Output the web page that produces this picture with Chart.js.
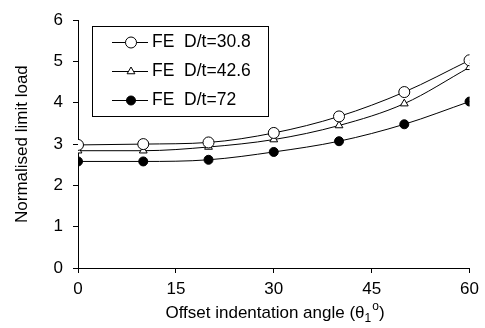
<!DOCTYPE html>
<html>
<head>
<meta charset="utf-8">
<script src="https://cdn.jsdelivr.net/npm/chart.js@4"></script>
<style>
  html, body { margin: 0; padding: 0; background: #fff; }
  #wrap { width: 485px; height: 328px; }
</style>
</head>
<body>
<div id="wrap"><canvas id="chart" width="485" height="328"></canvas></div>
<script>
const angles = [0, 10, 20, 30, 40, 50, 60];
const fe308 = [2.98, 3.0, 3.04, 3.27, 3.67, 4.26, 5.03];
const fe426 = [2.84, 2.84, 2.93, 3.11, 3.45, 3.98, 4.86];
const fe72 = [2.58, 2.58, 2.62, 2.81, 3.07, 3.48, 4.03];
const seriesLabels = ['FE  D/t=30.8', 'FE  D/t=42.6', 'FE  D/t=72'];
const xTicks = [0, 15, 30, 45, 60];
const yTicks = [0, 1, 2, 3, 4, 5, 6];

const FONT = 'Liberation Sans, Arial, sans-serif';

function toPoints(vals) {
  return angles.map((a, i) => ({ x: a, y: vals[i] }));
}

const styles = [
  { pointStyle: 'circle', radius: 5.5, bg: '#fff' },
  { pointStyle: 'triangle', radius: 4.5, bg: '#fff' },
  { pointStyle: 'circle', radius: 4.5, bg: '#000' }
];

const datasets = [fe308, fe426, fe72].map((vals, i) => ({
  label: seriesLabels[i],
  data: toPoints(vals),
  borderColor: '#000',
  borderWidth: 1,
  backgroundColor: styles[i].bg,
  pointStyle: styles[i].pointStyle,
  pointRadius: styles[i].radius,
  pointBorderWidth: 1,
  pointBackgroundColor: styles[i].bg,
  pointBorderColor: '#000',
  cubicInterpolationMode: 'monotone'
}));

// legend box inside the plot, plus x title with sub/superscript
const boxLegend = {
  id: 'boxLegend',
  afterDraw(chart) {
    const ctx = chart.ctx;
    ctx.save();
    ctx.strokeStyle = '#000';
    ctx.lineWidth = 1;
    ctx.fillStyle = '#fff';
    ctx.fillRect(92.5, 26.5, 176, 90);
    ctx.strokeRect(92.5, 26.5, 176, 90);
    const rows = [42, 71, 100];
    chart.data.datasets.forEach((ds, i) => {
      const y = rows[i];
      ctx.strokeStyle = '#000';
      ctx.lineWidth = 1;
      ctx.beginPath();
      ctx.moveTo(112, y + 0.5);
      ctx.lineTo(148, y + 0.5);
      ctx.stroke();
      ctx.fillStyle = ds.pointBackgroundColor;
      Chart.helpers.drawPoint(ctx, {
        pointStyle: ds.pointStyle,
        radius: ds.pointRadius,
        borderWidth: 1
      }, 131, y + 0.5);
      ctx.fillStyle = '#000';
      ctx.font = '17.5px ' + FONT;
      ctx.textBaseline = 'middle';
      ctx.textAlign = 'left';
      ctx.fillText(ds.label, 152, y);
    });

    // x axis title
    ctx.fillStyle = '#000';
    ctx.textBaseline = 'alphabetic';
    ctx.textAlign = 'left';
    const base = 318;
    const p1 = 'Offset indentation angle (\u03b8';
    const big = '17px ' + FONT;
    const small = '12px ' + FONT;
    ctx.font = big;
    const w1 = ctx.measureText(p1).width;
    ctx.font = small;
    const wSub = ctx.measureText('1').width;
    const wSup = ctx.measureText('o').width;
    ctx.font = big;
    const wEnd = ctx.measureText(')').width;
    const total = w1 + wSub + wSup + wEnd + 1;
    let x = 275 - total / 2;
    ctx.fillText(p1, x, base);
    x += w1;
    ctx.font = small;
    ctx.fillText('1', x, base + 4);
    x += wSub;
    ctx.fillText('o', x + 1, base - 8);
    x += wSup + 1;
    ctx.font = big;
    ctx.fillText(')', x, base);
    ctx.restore();
  }
};

new Chart(document.getElementById('chart'), {
  type: 'line',
  data: { datasets },
  options: {
    responsive: false,
    animation: false,
    layout: { padding: { top: 15, right: 14, left: 0, bottom: 0 } },
    plugins: {
      legend: { display: false },
      tooltip: { enabled: false }
    },
    scales: {
      x: {
        type: 'linear',
        min: 0,
        max: 60,
        afterBuildTicks: s => { s.ticks = xTicks.map(v => ({ value: v })); },
        afterFit: s => { s.height = 60; },
        grid: { drawOnChartArea: false, drawTicks: true, tickLength: 5, color: '#000' },
        border: { color: '#000', width: 1 },
        ticks: { color: '#000', font: { size: 17, family: FONT }, padding: 6, maxRotation: 0 }
      },
      y: {
        min: 0,
        max: 6,
        afterBuildTicks: s => { s.ticks = yTicks.map(v => ({ value: v })); },
        afterFit: s => { s.width = 78; },
        grid: { drawOnChartArea: false, drawTicks: true, tickLength: 5, color: '#000' },
        border: { color: '#000', width: 1 },
        ticks: { color: '#000', font: { size: 17, family: FONT }, padding: 10 },
        title: {
          display: true,
          text: 'Normalised limit load',
          color: '#000',
          font: { size: 17, family: FONT },
          padding: { top: 12, bottom: 4 }
        }
      }
    }
  },
  plugins: [boxLegend]
});
</script>
</body>
</html>
